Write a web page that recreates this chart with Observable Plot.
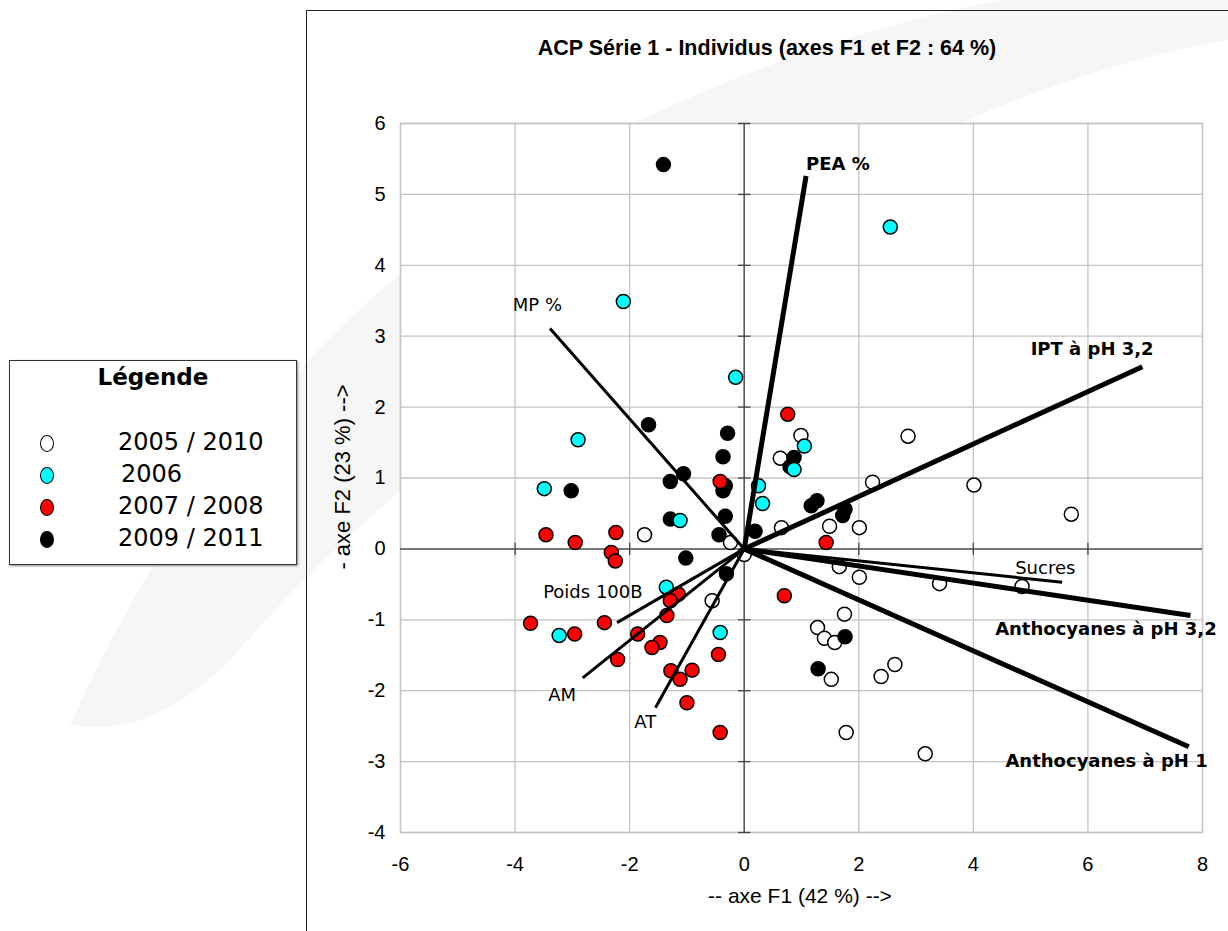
<!DOCTYPE html>
<html>
<head>
<meta charset="utf-8">
<script src="https://cdn.jsdelivr.net/npm/d3@7"></script>
<script src="https://cdn.jsdelivr.net/npm/@observablehq/plot@0.6"></script>
<style>
  html, body { margin: 0; padding: 0; background: #fff; width: 1228px; height: 931px; overflow: hidden; position: relative; }
  #wm { position: absolute; left: 0; top: 0; }
  #frame { position: absolute; left: 306px; top: 10px; width: 1100px; height: 1100px; border: 1.5px solid #222; box-sizing: border-box; }
  #title { position: absolute; left: 306px; width: 922px; top: 36px; text-align: center; font: bold 21.5px "Liberation Sans", Arial, sans-serif; color: #000; }
  #chart { position: absolute; left: 310px; top: 103px; }
  #chart svg text { font-size: 20px; }
  #chart svg g.vlab text { font-size: 18px; }
  #chart svg g.blab text { font-size: 18px; }
  #xlabel { position: absolute; left: 600px; width: 400px; top: 884px; text-align: center; font: 21px "Liberation Sans", Arial, sans-serif; }
  #ylabel { position: absolute; left: 343px; top: 477px; transform: translate(-50%, -50%) rotate(-90deg); white-space: nowrap; font: 22px "Liberation Sans", Arial, sans-serif; }
  #legend { position: absolute; left: 9px; top: 360px; width: 288px; height: 205px; border: 1px solid #333; box-sizing: border-box; background: #fff; box-shadow: 1px 1px 2px #888; font-family: "DejaVu Sans", Verdana, sans-serif; }
  #legend .head { position: absolute; left: 0; width: 100%; top: 3px; text-align: center; font-weight: bold; font-size: 23px; }
  #legend .row { position: absolute; left: 0; width: 100%; height: 30px; }
  #legend .sw { position: absolute; left: 30px; top: 5px; width: 14px; height: 17px; border-radius: 50%; border: 1px solid #000; box-sizing: border-box; }
  #legend .lb { position: absolute; left: 108px; top: -2px; font-size: 24px; }
</style>
</head>
<body>
<svg id="wm" width="1228" height="931"><path d="M 70 725 Q 260 300 640 120 Q 820 35 1000 0 L 1228 0 L 1228 40 Q 1000 80 760 230 Q 420 440 230 660 Q 150 740 70 725 Z" fill="#f6f6f6"/></svg>
<div id="frame"></div>
<div id="title">ACP Série 1 - Individus (axes F1 et F2 : 64 %)</div>
<div id="chart"></div>
<div id="xlabel">-- axe F1 (42 %) --&gt;</div>
<div id="ylabel">- axe F2 (23 %) --&gt;</div>
<div id="legend"></div>
<script>
// ---- Data ----
const groups = ["2005 / 2010", "2006", "2007 / 2008", "2009 / 2011"];
const groupColors = ["#ffffff", "#00ffff", "#ff0000", "#000000"];

const f1_2005 = [-1.74, -0.24, 0.00, -0.56, 0.99, 2.86, 0.63, 2.24, 0.65, 1.49, 2.01, 1.66, 2.01, 4.01, 5.71, 4.85, 3.41, 1.75, 1.28, 1.40, 1.58, 1.52, 2.63, 2.39, 1.78, 3.16];
const f2_2005 = [0.20, 0.09, -0.08, -0.73, 1.60, 1.59, 1.28, 0.94, 0.30, 0.32, 0.30, -0.25, -0.40, 0.90, 0.49, -0.53, -0.49, -0.92, -1.11, -1.26, -1.32, -1.84, -1.63, -1.80, -2.59, -2.89];

const f1_2006 = [-2.11, -0.15, -2.90, -3.49, -1.12, -1.36, -3.23, -0.42, 1.05, 0.87, 0.25, 0.32, 2.55];
const f2_2006 = [3.49, 2.42, 1.54, 0.85, 0.40, -0.54, -1.22, -1.18, 1.45, 1.12, 0.89, 0.64, 4.54];

const f1_2007 = [-0.42, -3.46, -2.24, -2.95, -2.32, -2.25, -1.15, -1.29, -3.73, -2.44, -1.35, -2.96, -1.86, -1.47, -1.61, -0.45, -2.21, -1.28, -0.91, -1.12, -1.00, -0.42, 0.76, 1.43, 0.70];
const f2_2007 = [0.95, 0.20, 0.23, 0.09, -0.05, -0.17, -0.64, -0.73, -1.05, -1.04, -0.94, -1.20, -1.20, -1.32, -1.39, -1.49, -1.56, -1.72, -1.71, -1.84, -2.17, -2.59, 1.90, 0.09, -0.66];

const f1_2009 = [-1.41, -1.67, -0.29, -0.37, -1.06, -1.29, -0.33, -0.37, -3.02, -0.33, -1.29, -0.44, -1.02, -0.31, 0.87, 0.80, 1.27, 1.17, 1.76, 1.72, 0.19, 1.76, 1.29];
const f2_2009 = [5.42, 1.75, 1.63, 1.30, 1.06, 0.95, 0.89, 0.82, 0.82, 0.46, 0.42, 0.20, -0.13, -0.35, 1.29, 1.16, 0.68, 0.61, 0.56, 0.47, 0.25, -1.24, -1.69];

// Variables (vectors)
const varNames = ["PEA %", "MP %", "IPT à pH 3,2", "Sucres", "Anthocyanes à pH 3,2", "Anthocyanes à pH 1", "Poids 100B", "AM", "AT"];
const varF1 = [1.08, -3.39, 6.95, 5.55, 7.79, 7.76, -2.22, -2.82, -1.55];
const varF2 = [5.26, 3.11, 2.57, -0.47, -0.94, -2.79, -1.04, -1.82, -2.24];
const varBold = [true, false, true, false, true, true, false, false, false];
const varLabelF1 = [1.08, -4.04, 5.00, 4.73, 4.38, 4.56, -3.51, -3.42, -1.92];
const varLabelF2 = [5.42, 3.43, 2.82, -0.27, -1.13, -2.99, -0.61, -2.06, -2.44];

const xTicks = [-6, -4, -2, 0, 2, 4, 6, 8];
const yTicks = [-4, -3, -2, -1, 0, 1, 2, 3, 4, 5, 6];
const xTickMarks = [-4, -2, 2, 4, 6];

// ---- Build tables ----
const xs = [f1_2005, f1_2006, f1_2007, f1_2009];
const ys = [f2_2005, f2_2006, f2_2007, f2_2009];
const points = [];
[0, 3, 1, 2].forEach(g => xs[g].forEach((v, i) => points.push({g, x: v, y: ys[g][i]})));
const vars = varNames.map((n, i) => ({name: n, x: varF1[i], y: varF2[i], bold: varBold[i], lx: varLabelF1[i], ly: varLabelF2[i]}));

const hTick = {draw(ctx, size) { const r = Math.sqrt(size) / 2; ctx.moveTo(-r, 0); ctx.lineTo(r, 0); }};
const vTick = {draw(ctx, size) { const r = Math.sqrt(size) / 2; ctx.moveTo(0, -r); ctx.lineTo(0, r); }};

const chart = Plot.plot({
  width: 918,
  height: 806,
  marginLeft: 90,
  marginRight: 26,
  marginTop: 20,
  marginBottom: 77,
  style: {fontFamily: "'Liberation Sans', Arial, sans-serif", fontSize: "20px", background: "transparent", color: "#000"},
  x: {domain: [-6, 8], ticks: xTicks, label: null},
  y: {domain: [-4, 6], ticks: yTicks, label: null},
  marks: [
    Plot.frame({fill: "#fff", stroke: "#c4c4c4", strokeWidth: 1.3}),
    Plot.gridX(xTicks, {stroke: "#c4c4c4", strokeOpacity: 1, strokeWidth: 1.3}),
    Plot.gridY(yTicks, {stroke: "#c4c4c4", strokeOpacity: 1, strokeWidth: 1.3}),
    Plot.ruleX([0], {stroke: "#555", strokeWidth: 1.5}),
    Plot.ruleY([0], {stroke: "#555", strokeWidth: 1.5}),
    Plot.dot(yTicks.filter(d => d !== 0), {x: () => 0, y: d => d, symbol: hTick, r: 7, stroke: "#444", strokeWidth: 1.3}),
    Plot.dot(xTickMarks, {x: d => d, y: () => 0, symbol: vTick, r: 7, stroke: "#444", strokeWidth: 1.3}),
    Plot.axisX(xTicks, {tickSize: 0, tickPadding: 24, tickFormat: d => String(d), fontSize: 20}),
    Plot.axisY(yTicks, {tickSize: 0, tickPadding: 15, tickFormat: d => String(d), fontSize: 20}),
    Plot.dot(points, {x: "x", y: "y", r: 7, fill: d => groupColors[d.g], stroke: "#000", strokeWidth: 1.5}),
    Plot.link(vars.filter(d => d.bold), {x1: () => 0, y1: () => 0, x2: "x", y2: "y", stroke: "#000", strokeWidth: 5}),
    Plot.link(vars.filter(d => !d.bold), {x1: () => 0, y1: () => 0, x2: "x", y2: "y", stroke: "#000", strokeWidth: 3}),
    Plot.text(vars.filter(d => d.bold), {x: "lx", y: "ly", text: "name", textAnchor: "start", fontWeight: "bold", fontFamily: "'DejaVu Sans', Verdana, sans-serif", fill: "#000", className: "blab"}),
    Plot.text(vars.filter(d => !d.bold), {x: "lx", y: "ly", text: "name", textAnchor: "start", fontFamily: "'DejaVu Sans', Verdana, sans-serif", fill: "#000", className: "vlab"})
  ]
});
document.getElementById("chart").appendChild(chart);

// ---- Legend ----
const legend = document.getElementById("legend");
const head = document.createElement("div");
head.className = "head";
head.textContent = "Légende";
legend.appendChild(head);
const rowTops = [69, 101, 133, 165];
const labelLeft = [108, 111, 108, 108];
groups.forEach((g, i) => {
  const row = document.createElement("div");
  row.className = "row";
  row.style.top = rowTops[i] + "px";
  const sw = document.createElement("div");
  sw.className = "sw";
  sw.style.background = groupColors[i];
  const lb = document.createElement("div");
  lb.className = "lb";
  lb.style.left = labelLeft[i] + "px";
  lb.textContent = g;
  row.appendChild(sw);
  row.appendChild(lb);
  legend.appendChild(row);
});
</script>
</body>
</html>
